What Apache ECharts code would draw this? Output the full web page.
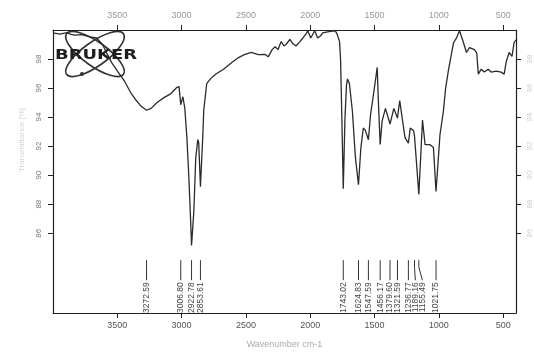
<!DOCTYPE html>
<html>
<head>
<meta charset="utf-8">
<script src="https://cdn.jsdelivr.net/npm/echarts@6/dist/echarts.min.js"></script>
<style>
  html, body { margin: 0; padding: 0; background: #fff; }
  #chart { width: 534px; height: 354px; }
</style>
</head>
<body>
<div id="chart"></div>
<script>
// IR spectrum: wavenumber (cm-1) and transmittance (%)
const wavenumber = [
  4000, 3946, 3892, 3860, 3830, 3776, 3715, 3661, 3615, 3576, 3545, 3499, 3445, 3391, 3352, 3314,
  3272.59, 3237, 3191, 3137, 3083, 3036, 3020, 3006.80, 2990, 2975, 2959, 2944, 2930, 2922.78,
  2905, 2890, 2874, 2867, 2853.61, 2836, 2828, 2805, 2774, 2736, 2674, 2612, 2558, 2512, 2458,
  2404, 2350, 2327, 2296, 2273, 2250, 2227, 2204, 2188, 2158, 2134, 2111, 2080, 2057, 2034, 2019,
  1996, 1965, 1942, 1919, 1903, 1865, 1826, 1803, 1788, 1772, 1764, 1754, 1743.02, 1730, 1718,
  1710, 1695, 1672, 1649, 1624.83, 1606, 1587, 1572, 1547.59, 1531, 1502, 1479, 1471, 1456.17,
  1441, 1415, 1379.60, 1350, 1321.59, 1304, 1286, 1263, 1236.77, 1222, 1196, 1189.16, 1155.49,
  1127, 1107, 1068, 1042, 1021.75, 991, 965, 947, 924, 886, 862, 839, 808, 785, 762, 724, 705,
  693, 670, 647, 616, 593, 554, 516, 492, 477, 454, 431, 415, 400
];
const transmittance = [
  99.80, 99.72, 99.82, 99.70, 99.64, 99.68, 99.52, 99.45, 99.00, 98.30, 97.77, 97.17, 96.49, 95.61, 95.14, 94.74,
  94.47, 94.60, 95.00, 95.34, 95.62, 96.05, 96.10, 94.85, 95.40, 94.60, 92.60, 89.90, 86.90, 85.15,
  87.50, 91.20, 92.45, 92.25, 89.20, 92.55, 94.45, 96.30, 96.65, 96.95, 97.30, 97.75, 98.10, 98.30, 98.45,
  98.30, 98.32, 98.15, 98.65, 98.85, 98.65, 99.20, 98.90, 99.00, 99.35, 99.05, 98.90, 99.20, 99.45, 99.72, 99.95,
  99.45, 99.95, 99.45, 99.60, 99.80, 99.87, 99.93, 99.92, 99.65, 99.20, 97.95, 93.90, 89.07, 93.90, 96.20,
  96.63, 96.30, 94.40, 91.25, 89.34, 91.90, 93.25, 93.10, 92.44, 94.15, 95.95, 97.42, 95.30, 92.11,
  93.72, 94.60, 93.52, 94.60, 93.93, 95.14, 94.00, 92.58, 92.20, 93.25, 93.05, 92.70, 88.66,
  93.80, 92.10, 92.10, 91.90, 88.87, 92.80, 94.38, 96.00, 97.30, 99.12, 99.46, 99.95, 99.12, 98.45, 98.79, 98.65, 98.40,
  96.96, 97.30, 97.10, 97.30, 97.10, 97.17, 97.10, 96.96, 97.77, 98.45, 98.18, 99.12, 99.33
];

// Picked peak positions (cm-1)
const peakPositions = [
  3272.59, 3006.80, 2922.78, 2853.61, 1743.02, 1624.83, 1547.59,
  1456.17, 1379.60, 1321.59, 1236.77, 1189.16, 1155.49, 1021.75
];

const xTicks = [3500, 3000, 2500, 2000, 1500, 1000, 500];
const yTicks = [86, 88, 90, 92, 94, 96, 98];

const chart = echarts.init(document.getElementById('chart'), null, { renderer: 'canvas' });

const ink = '#222';
const FONT = 'Liberation Sans, Arial, sans-serif';
const PEAK_TOP = 84.14;      // transmittance level where peak markers start
const LINE_LEN = 20;         // px
const MIN_GAP = 7;           // px between neighbouring peak labels
const plain = v => String(v);

function peakRender(params, api) {
  // pixel positions of all peaks, spread apart where labels would collide
  const xs = peakPositions.map(p => api.coord([p, PEAK_TOP])[0]);
  const order = xs.map((x, i) => i).sort((a, b) => xs[a] - xs[b]);
  const tx = xs.slice();
  for (let k = 1; k < order.length; k++) {
    const prev = tx[order[k - 1]];
    if (tx[order[k]] < prev + MIN_GAP) tx[order[k]] = prev + MIN_GAP;
  }
  const i = params.dataIndex;
  const top = api.coord([peakPositions[i], PEAK_TOP]);
  const x = top[0], y0 = top[1];
  const y1 = y0 + LINE_LEN;
  return {
    type: 'group',
    children: [
      {
        type: 'polyline',
        shape: { points: [[x, y0], [x, y0 + 7], [tx[i], y1]] },
        style: { stroke: '#333', lineWidth: 1, fill: null }
      },
      {
        type: 'text',
        x: tx[i],
        y: y1 + 2,
        rotation: Math.PI / 2,
        style: {
          text: peakPositions[i].toFixed(2),
          fontSize: 8.5,
          fontFamily: FONT,
          fill: '#444',
          align: 'right',
          verticalAlign: 'middle'
        }
      }
    ]
  };
}

const axisLineStyle = { color: ink, width: 1.2 };

const option = {
  backgroundColor: '#ffffff',
  animation: false,
  grid: { left: 53, right: 14, top: 30, bottom: 35 },
  xAxis: [
    {
      type: 'value', inverse: true, min: 400, max: 4000, position: 'bottom',
      axisLine: { show: true, lineStyle: axisLineStyle },
      axisTick: { show: true, customValues: xTicks, length: 5, lineStyle: { color: ink } },
      axisLabel: { customValues: xTicks, formatter: plain, color: '#555', fontSize: 9, margin: 8,
                   fontFamily: FONT },
      splitLine: { show: false },
      name: 'Wavenumber cm-1', nameLocation: 'middle', nameGap: 27,
      nameTextStyle: { color: '#aaa', fontSize: 9, fontFamily: FONT }
    },
    {
      type: 'value', inverse: true, min: 400, max: 4000, position: 'top',
      axisLine: { show: true, lineStyle: axisLineStyle },
      axisTick: { show: true, customValues: xTicks, length: 5, lineStyle: { color: ink } },
      axisLabel: { customValues: xTicks, formatter: plain, color: '#999', fontSize: 9, margin: 10,
                   fontFamily: FONT },
      splitLine: { show: false }
    }
  ],
  yAxis: [
    {
      type: 'value', min: 80.5, max: 100, position: 'left',
      axisLine: { show: true, lineStyle: axisLineStyle },
      axisTick: { show: true, customValues: yTicks, length: 5, lineStyle: { color: ink } },
      axisLabel: { customValues: yTicks, formatter: plain, rotate: 90, color: '#777', fontSize: 8, margin: 10,
                   fontFamily: FONT },
      splitLine: { show: false }
    },
    {
      type: 'value', min: 80.5, max: 100, position: 'right',
      axisLine: { show: true, lineStyle: axisLineStyle },
      axisTick: { show: true, customValues: yTicks, length: 5, lineStyle: { color: ink } },
      axisLabel: { customValues: yTicks, formatter: plain, rotate: 90, color: '#d0d0d0', fontSize: 8, margin: 10,
                   fontFamily: FONT },
      splitLine: { show: false }
    }
  ],
  series: [
    {
      type: 'line',
      data: wavenumber.map((w, i) => [w, transmittance[i]]),
      showSymbol: false,
      smooth: false,
      lineStyle: { color: '#2b2b2b', width: 1.3 },
      z: 3
    },
    {
      type: 'custom',
      data: peakPositions.map(p => [p, PEAK_TOP]),
      renderItem: peakRender,
      z: 3
    }
  ],
  graphic: [
    {
      type: 'text',
      x: 22, y: 140,
      rotation: Math.PI / 2,
      style: {
        text: 'Transmittance [%]', fontSize: 8, fill: '#d4d4d4',
        align: 'center', verticalAlign: 'middle',
        fontFamily: FONT
      }
    },
    {
      type: 'group',
      z: 1,
      children: [
        {
          type: 'ellipse', x: 95, y: 54, rotation: -0.62,
          shape: { cx: 0, cy: 0, rx: 35, ry: 12 },
          style: { stroke: '#333', lineWidth: 1.6, fill: null }
        },
        {
          type: 'ellipse', x: 95, y: 54, rotation: 0.62,
          shape: { cx: 0, cy: 0, rx: 35, ry: 12 },
          style: { stroke: '#333', lineWidth: 1.6, fill: null }
        },
        {
          type: 'circle', shape: { cx: 82, cy: 74, r: 2 },
          style: { fill: '#333' }
        },
        {
          type: 'text', x: 55, y: 55, scaleX: 1.28,
          style: {
            text: 'BRUKER', fontSize: 14, fontWeight: 'bold', fill: '#1e1e1e',
            fontFamily: 'DejaVu Sans, sans-serif',
            align: 'left', verticalAlign: 'middle'
          }
        }
      ]
    }
  ]
};

chart.setOption(option);
</script>
</body>
</html>
